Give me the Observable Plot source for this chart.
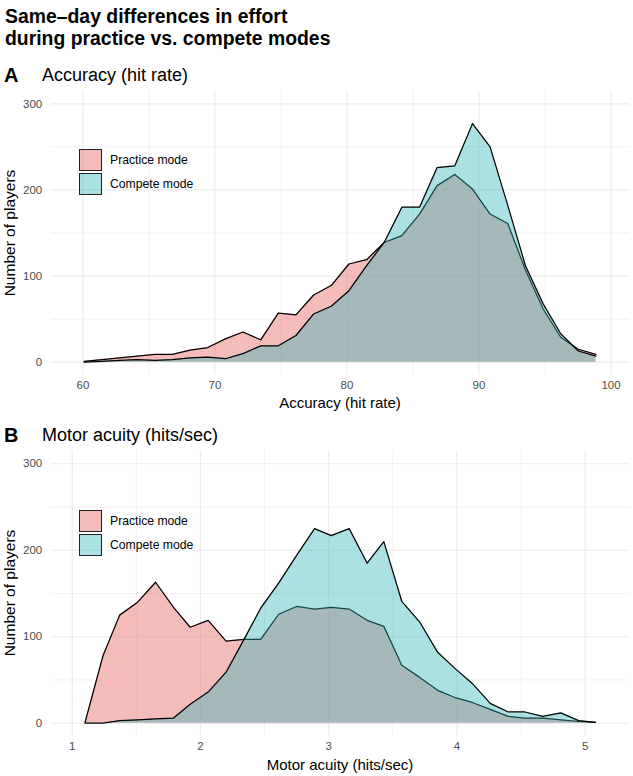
<!DOCTYPE html>
<html>
<head>
<meta charset="utf-8">
<script src="https://cdn.jsdelivr.net/npm/d3@7"></script>
<script src="https://cdn.jsdelivr.net/npm/@observablehq/plot@0.6"></script>
<style>
  body { margin: 0; background: #ffffff; font-family: "Liberation Sans", Arial, Helvetica, sans-serif; }
  #root { position: relative; width: 633px; height: 776px; overflow: hidden; background: #fff; }
  .t { position: absolute; white-space: nowrap; line-height: 1; color: #000; }
  .vc { transform: translateY(-50%); }
  .cc { transform: translate(-50%, -50%); }
  .rot { transform: translate(-50%, -50%) rotate(-90deg); }
  .key { position: absolute; width: 21px; height: 20px; border: 1.2px solid #222; box-sizing: content-box; }
  .plot { position: absolute; left: 0; }
</style>
</head>
<body>
<div id="root"></div>
<script>
// ---------- data ----------
const title = ["Same–day differences in effort", "during practice vs. compete modes"];
const modes = ["Practice mode", "Compete mode"];

// Panel A: accuracy (hit rate), bin centres
const accuracyBins = [60.10, 61.44, 62.77, 64.11, 65.45, 66.78, 68.12, 69.46, 70.79, 72.13,
                      73.47, 74.80, 76.14, 77.48, 78.81, 80.15, 81.49, 82.82, 84.16, 85.50,
                      86.83, 88.17, 89.51, 90.84, 92.18, 93.52, 94.85, 96.19, 97.52, 98.86];
const accuracyPractice = [1, 3, 5, 7, 9, 9, 14, 17, 27, 35,
                          26, 57, 55, 78, 89, 114, 119, 139, 147, 172,
                          205, 218, 201, 172, 161, 107, 62, 29, 15, 9];
const accuracyCompete = [0, 1, 2, 3, 2, 3, 5, 6, 4, 10,
                         19, 19, 31, 56, 65, 83, 112, 139, 180, 180,
                         226, 228, 277, 250, 182, 112, 68, 33, 13, 7];
const accuracyTicks = [60, 70, 80, 90, 100];
const accuracyMinor = [65, 75, 85, 95];

// Panel B: motor acuity (hits/sec), bin centres
const acuityBins = [1.10, 1.24, 1.37, 1.51, 1.65, 1.79, 1.92, 2.06, 2.20, 2.34,
                    2.47, 2.61, 2.75, 2.89, 3.02, 3.16, 3.30, 3.43, 3.57, 3.71,
                    3.85, 3.98, 4.12, 4.26, 4.40, 4.53, 4.67, 4.81, 4.95, 5.08];
const acuityPractice = [1, 78, 125, 140, 163, 134, 111, 119, 95, 97,
                        97, 126, 135, 132, 134, 132, 119, 112, 67, 53,
                        38, 30, 24, 16, 8, 6, 6, 4, 2, 1];
const acuityCompete = [0, 0, 3, 4, 5, 6, 22, 36, 59, 97,
                       133, 162, 194, 225, 217, 225, 185, 210, 141, 117,
                       82, 64, 46, 23, 13, 13, 8, 12, 3, 1];
const acuityTicks = [1, 2, 3, 4, 5];
const acuityMinor = [1.5, 2.5, 3.5, 4.5];

const countTicks = [0, 100, 200, 300];
const countMinor = [50, 150, 250];

// ---------- style ----------
const FONT = '"Liberation Sans", Arial, Helvetica, sans-serif';
const practiceColor = "#E97A74";
const competeColor = "#2FB5BB";
const practiceAlpha = 0.5;
const competeAlpha = 0.4;
const gridColor = "#EBEBEB";

const root = document.getElementById("root");
function addText(text, cls, left, top, css) {
  const d = document.createElement("div");
  d.className = "t " + cls;
  d.textContent = text;
  d.style.left = left + "px";
  d.style.top = top + "px";
  Object.assign(d.style, css || {});
  root.appendChild(d);
  return d;
}

function panel(cfg) {
  const P = cfg.xs.map((x, i) => ({x, y: cfg.practice[i]}));
  const C = cfg.xs.map((x, i) => ({x, y: cfg.compete[i]}));
  const svg = Plot.plot({
    width: 633,
    height: cfg.height,
    marginLeft: 50.7,
    marginRight: 4,
    marginTop: cfg.mt,
    marginBottom: cfg.mb,
    x: {domain: cfg.xDomain},
    y: {domain: [-15, 315]},
    style: {fontFamily: FONT, fontSize: "11.5px", background: "transparent", overflow: "visible"},
    marks: [
      Plot.gridY(countMinor, {stroke: gridColor, strokeOpacity: 1, strokeWidth: 0.7}),
      Plot.gridX(cfg.minor, {stroke: gridColor, strokeOpacity: 1, strokeWidth: 0.7}),
      Plot.gridY(countTicks, {stroke: gridColor, strokeOpacity: 1, strokeWidth: 1.2}),
      Plot.gridX(cfg.ticks, {stroke: gridColor, strokeOpacity: 1, strokeWidth: 1.2}),
      Plot.areaY(P, {x: "x", y: "y", fill: practiceColor, fillOpacity: practiceAlpha}),
      Plot.lineY(P, {x: "x", y: "y", stroke: "#000", strokeWidth: 1.25}),
      Plot.areaY(C, {x: "x", y: "y", fill: competeColor, fillOpacity: competeAlpha}),
      Plot.lineY(C, {x: "x", y: "y", stroke: "#000", strokeWidth: 1.25}),
      Plot.axisY({ticks: countTicks, tickSize: 0, tickPadding: 9, fill: "#4D4D4D", label: null, fontSize: 11.5, tickFormat: d3.format("d")}),
      Plot.axisX({ticks: cfg.ticks, tickSize: 0, tickPadding: 6, fill: "#4D4D4D", label: null, fontSize: 11.5, tickFormat: d3.format("d")})
    ]
  });
  svg.classList.add("plot");
  svg.style.top = cfg.top + "px";
  root.appendChild(svg);

  // panel header
  addText(cfg.letter, "vc", 4, cfg.headY, {fontWeight: "bold", fontSize: "20px"});
  addText(cfg.heading, "vc", 42, cfg.headY, {fontSize: "18px"});
  // axis titles
  addText(cfg.xTitle, "cc", 340, cfg.xTitleY, {fontSize: "15px"});
  addText("Number of players", "rot", 10, cfg.yMid, {fontSize: "15.5px"});
  // legend
  const keys = [[practiceColor, practiceAlpha], [competeColor, competeAlpha]];
  keys.forEach(([c, a], i) => {
    const k = document.createElement("div");
    k.className = "key";
    const rgb = d3.rgb(c);
    k.style.background = `rgba(${rgb.r},${rgb.g},${rgb.b},${a})`;
    k.style.left = "79px";
    k.style.top = (cfg.legTop + i * 23.5) + "px";
    root.appendChild(k);
    addText(modes[i], "vc", 110, cfg.legTop + 11 + i * 23.5, {fontSize: "12.2px"});
  });
}

addText(title[0], "vc", 5, 17, {fontWeight: "bold", fontSize: "19.4px"});
addText(title[1], "vc", 5, 39, {fontWeight: "bold", fontSize: "19.4px"});

panel({
  xs: accuracyBins, practice: accuracyPractice, compete: accuracyCompete,
  xDomain: [57.6, 101.4], ticks: accuracyTicks, minor: accuracyMinor,
  top: 86, height: 326, mt: 4.4, mb: 37.4,
  letter: "A", heading: "Accuracy (hit rate)", headY: 75,
  xTitle: "Accuracy (hit rate)", xTitleY: 402, yMid: 232.5, legTop: 149
});
panel({
  xs: acuityBins, practice: acuityPractice, compete: acuityCompete,
  xDomain: [0.836, 5.346], ticks: acuityTicks, minor: acuityMinor,
  top: 446, height: 330, mt: 4.3, mb: 40.3,
  letter: "B", heading: "Motor acuity (hits/sec)", headY: 435,
  xTitle: "Motor acuity (hits/sec)", xTitleY: 763.5, yMid: 593, legTop: 510
});
</script>
</body>
</html>
